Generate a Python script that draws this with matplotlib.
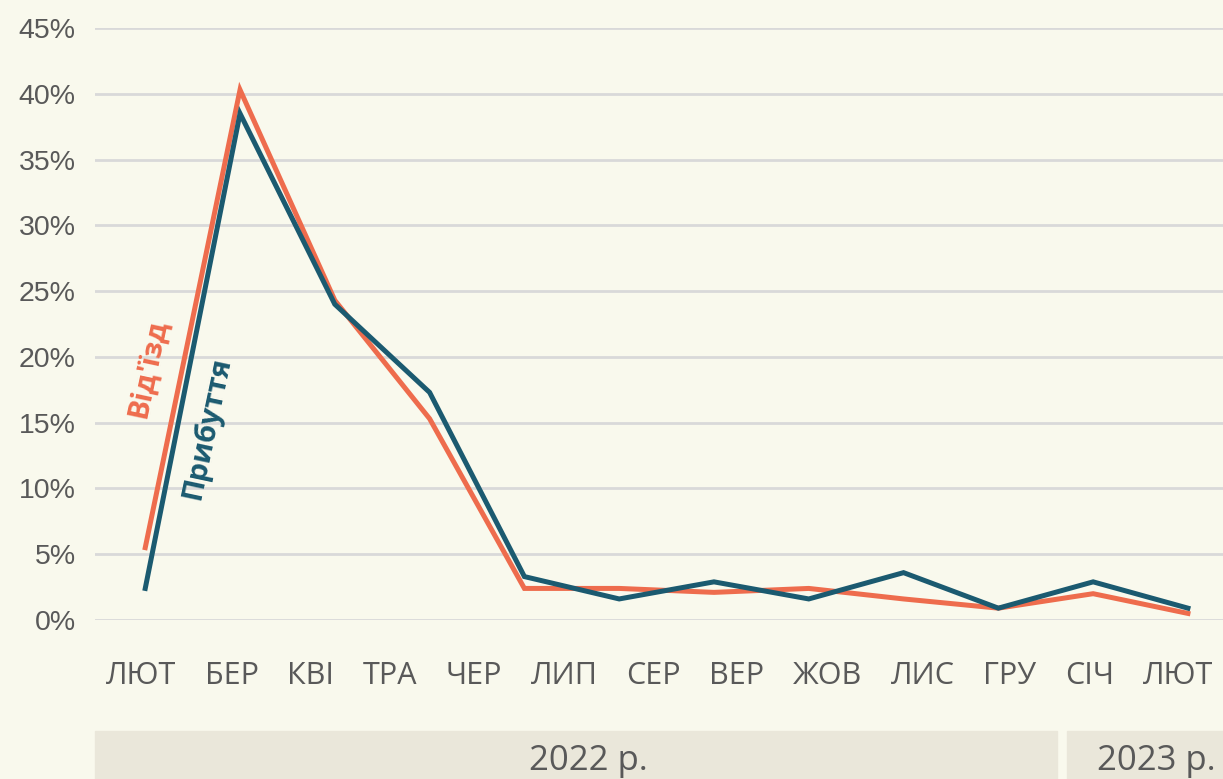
import numpy as np
import matplotlib.pyplot as plt
from matplotlib.patches import Rectangle

# Дані: частка від'їздів / прибуттів по місяцях, %
points = np.arange(12)
vidizd = [5.5, 40.3, 24.3, 15.3, 2.4, 2.4, 2.1, 2.4, 1.6, 0.9, 2.0, 0.5]
prybuttia = [2.4, 38.5, 24.0, 17.3, 3.3, 1.6, 2.9, 1.6, 3.6, 0.9, 2.9, 0.9]
months = ['ЛЮТ', 'БЕР', 'КВІ', 'ТРА', 'ЧЕР', 'ЛИП', 'СЕР', 'ВЕР', 'ЖОВ',
          'ЛИС', 'ГРУ', 'СІЧ', 'ЛЮТ']
yticks = np.arange(0, 46, 5)

bg = '#f9f9ed'
orange = '#ee6c4d'
blue = '#1b5a70'
grey_txt = '#595959'

W, H = 1223, 779
fig = plt.figure(figsize=(W / 100, H / 100), dpi=100, facecolor=bg)
ax = fig.add_axes([95 / W, 1 - 620 / H, 1 - 95 / W, (620 - 28) / H])
ax.set_facecolor(bg)

ax.plot(points, vidizd, color=orange, lw=3.6, zorder=3, solid_joinstyle='miter')
ax.plot(points, prybuttia, color=blue, lw=3.6, zorder=4, solid_joinstyle='miter')

ax.set_xlim(-0.53, 11.37)
ax.set_ylim(0, 45)
ax.set_yticks(yticks)
ax.set_yticklabels([f'{v}%' for v in yticks], fontsize=20.5, color=grey_txt,
                   family='Liberation Sans')
ax.set_xticks([])
ax.tick_params(axis='both', length=0)
ax.tick_params(axis='y', pad=14)
ax.yaxis.grid(True, color='#d9d9d9', lw=2)
ax.set_axisbelow(True)
for s in ax.spines.values():
    s.set_visible(False)

# підписи місяців одним рядком з рівними проміжками
prev = ax.annotate(months[0], xy=(106, H - 676), xycoords='figure pixels',
                   fontsize=22, color=grey_txt, family='Open Sans',
                   ha='left', va='center')
for m in months[1:]:
    prev = ax.annotate(m, xy=(1, 0.5), xycoords=prev, xytext=(28.5, 0),
                       textcoords='offset pixels', fontsize=22,
                       color=grey_txt, family='Open Sans',
                       ha='left', va='center')

# підписи ліній
ax.text(0.03, 19.1, "Від'їзд", rotation=78, color=orange, fontsize=21,
        fontweight='bold', family='Open Sans', ha='center', va='center')
ax.text(0.65, 14.6, 'Прибуття', rotation=78, color=blue, fontsize=21,
        fontweight='bold', family='Open Sans', ha='center', va='center')

# смуга з роками
band = '#eae7da'
fig.patches.append(Rectangle((95 / W, 0), (1057 - 95) / W, 48 / H,
                             transform=fig.transFigure, color=band, zorder=0))
fig.patches.append(Rectangle((1067 / W, 0), (W - 1067) / W, 48 / H,
                             transform=fig.transFigure, color=band, zorder=0))
fig.text(588 / W, 1 - 761 / H, '2022 р.', fontsize=25, color=grey_txt,
         family='Open Sans', ha='center', va='center')
fig.text(1156 / W, 1 - 761 / H, '2023 р.', fontsize=25, color=grey_txt,
         family='Open Sans', ha='center', va='center')

plt.savefig('out.png', dpi=100, facecolor=bg)
